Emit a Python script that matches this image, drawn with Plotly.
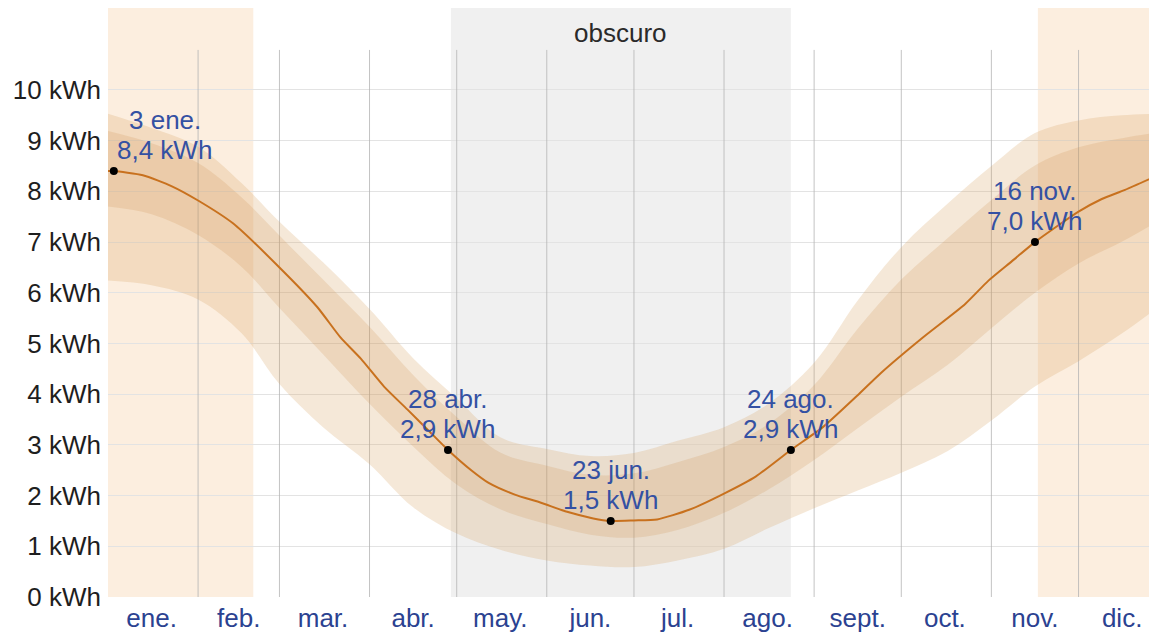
import plotly.graph_objects as go

# ---------------- data ----------------
month_start_days = [31, 59, 90, 120, 151, 181, 212, 243, 273, 304, 334]
month_mid_days = [15, 45, 74, 105, 135, 166, 196, 227, 258, 288, 319, 349]
month_labels = ["ene.", "feb.", "mar.", "abr.", "may.", "jun.", "jul.", "ago.",
                "sept.", "oct.", "nov.", "dic."]

ytick_vals = [0, 1, 2, 3, 4, 5, 6, 7, 8, 9, 10]
ytick_labels = ["0 kWh", "1 kWh", "2 kWh", "3 kWh", "4 kWh", "5 kWh", "6 kWh",
                "7 kWh", "8 kWh", "9 kWh", "10 kWh"]

# median daily incident shortwave energy (day of year, kWh)
median_days = [0, 2, 12, 22, 31, 43, 59, 72, 80, 87, 95, 103, 110, 117, 125, 131,
               140, 149, 158, 167, 173, 181, 189, 200, 212, 223, 235, 246, 258,
               266, 280, 295, 303, 311, 319, 334, 342, 350, 361]
median_vals = [8.40, 8.40, 8.32, 8.10, 7.82, 7.37, 6.50, 5.72, 5.12, 4.70, 4.15,
               3.70, 3.30, 2.90, 2.50, 2.25, 2.02, 1.86, 1.68, 1.55, 1.50, 1.51,
               1.53, 1.72, 2.04, 2.38, 2.90, 3.35, 3.98, 4.42, 5.10, 5.78, 6.24,
               6.62, 7.00, 7.60, 7.85, 8.03, 8.31]

band_days = [0, 15, 31, 46, 59, 74, 90, 105, 120, 135, 151, 166, 181, 196, 212,
             227, 243, 258, 273, 289, 304, 319, 334, 349, 361]
p90_vals = [9.53, 9.25, 8.88, 8.16, 7.40, 6.60, 5.68, 4.71, 3.92, 3.15, 2.92, 2.78,
            2.84, 3.08, 3.35, 3.80, 4.62, 5.85, 6.90, 7.76, 8.50, 9.15, 9.40, 9.50, 9.53]
p75_vals = [9.19, 8.95, 8.56, 7.88, 7.13, 6.26, 5.33, 4.38, 3.55, 2.85, 2.59, 2.41,
            2.44, 2.66, 2.96, 3.40, 4.18, 5.29, 6.26, 7.08, 7.83, 8.51, 8.87, 9.05, 9.16]
p25_vals = [7.70, 7.55, 7.14, 6.51, 5.70, 4.79, 3.81, 2.97, 2.22, 1.73, 1.44, 1.23,
            1.17, 1.32, 1.66, 2.11, 2.70, 3.33, 3.95, 4.58, 5.30, 6.00, 6.58, 7.01, 7.40]
p10_vals = [6.24, 6.15, 5.87, 5.20, 4.20, 3.35, 2.62, 1.77, 1.25, 0.93, 0.72, 0.62,
            0.59, 0.72, 0.95, 1.35, 1.75, 2.10, 2.45, 2.88, 3.48, 4.15, 4.65, 5.20, 5.70]

# highlighted points
ann_days = [2, 117, 173, 235, 319]
ann_vals = [8.4, 2.9, 1.5, 2.9, 7.0]
ann_dates = ["3 ene.", "28 abr.", "23 jun.", "24 ago.", "16 nov."]

# seasons
bright_periods = [(0, 50), (320, 365)]
dark_period = (118, 235)
dark_label = "obscuro"

X_MAX = 361
Y_MAX = 11.617
GRID_TOP = 10.79

# ---------------- figure ----------------
fig = go.Figure()

band_outer = "rgba(215,165,100,0.25)"
band_inner = "rgba(200,140,70,0.19)"

fig.add_trace(go.Scatter(x=band_days, y=p10_vals, mode="lines",
                         line=dict(width=0, shape="spline"), hoverinfo="skip", showlegend=False))
fig.add_trace(go.Scatter(x=band_days, y=p90_vals, mode="lines", fill="tonexty",
                         fillcolor=band_outer, line=dict(width=0, shape="spline"),
                         hoverinfo="skip", showlegend=False))
fig.add_trace(go.Scatter(x=band_days, y=p25_vals, mode="lines",
                         line=dict(width=0, shape="spline"), hoverinfo="skip", showlegend=False))
fig.add_trace(go.Scatter(x=band_days, y=p75_vals, mode="lines", fill="tonexty",
                         fillcolor=band_inner, line=dict(width=0, shape="spline"),
                         hoverinfo="skip", showlegend=False))
fig.add_trace(go.Scatter(x=median_days, y=median_vals, mode="lines",
                         line=dict(color="#c8711e", width=2, shape="spline", smoothing=0.6),
                         showlegend=False))
fig.add_trace(go.Scatter(x=ann_days, y=ann_vals, mode="markers",
                         marker=dict(color="black", size=8), showlegend=False))

shapes = []
for (a, b) in bright_periods:
    shapes.append(dict(type="rect", xref="x", yref="y", x0=a, x1=min(b, X_MAX),
                       y0=0, y1=Y_MAX, fillcolor="rgb(252,238,223)",
                       line=dict(width=0), layer="below"))
shapes.append(dict(type="rect", xref="x", yref="y", x0=dark_period[0], x1=dark_period[1],
                   y0=0, y1=Y_MAX, fillcolor="rgb(240,240,240)",
                   line=dict(width=0), layer="below"))
for d in month_start_days:
    shapes.append(dict(type="line", xref="x", yref="y", x0=d, x1=d, y0=0, y1=GRID_TOP,
                       line=dict(color="rgba(180,180,180,0.8)", width=1), layer="between"))
fig.update_layout(shapes=shapes)

annotations = []
for d, v, t in zip(ann_days, ann_vals, ann_dates):
    val_txt = ("%.1f" % v).replace(".", ",") + " kWh"
    if d < 20:
        anchor, xs = "left", 3
    else:
        anchor, xs = "center", 0
    # the value line, then the date line above it
    annotations.append(dict(x=d, y=v, text=val_txt, showarrow=False, xanchor="center",
                            yanchor="middle", yshift=21,
                            xshift=(xs + 48 if anchor == "left" else 0),
                            font=dict(size=26, color="#3451a3")))
    annotations.append(dict(x=d, y=v, text=t, showarrow=False, xanchor="center",
                            yanchor="middle", yshift=51,
                            xshift=(xs + 48 if anchor == "left" else 0),
                            font=dict(size=26, color="#3451a3")))
annotations.append(dict(x=(dark_period[0] + dark_period[1]) / 2, y=11.12, text=dark_label,
                        showarrow=False, xanchor="center", yanchor="middle",
                        font=dict(size=26, color="#2a2a2a")))
fig.update_layout(annotations=annotations)

fig.update_layout(
    width=1149, height=627,
    margin=dict(l=100, r=0, t=0, b=38),
    paper_bgcolor="white", plot_bgcolor="white",
    font=dict(family="Liberation Sans, Arial, sans-serif", size=26),
    xaxis=dict(range=[0, X_MAX], tickmode="array", tickvals=month_mid_days,
               ticktext=month_labels, showgrid=False, zeroline=False, showline=False,
               ticks="", ticklabelstandoff=3,
               tickfont=dict(size=26, color="#2b4291"), fixedrange=True),
    yaxis=dict(range=[0, Y_MAX], tickmode="array", tickvals=ytick_vals,
               ticktext=ytick_labels, showgrid=True, gridcolor="#e3e3e3", gridwidth=1,
               zeroline=False, showline=False, ticks="", ticklabelstandoff=6,
               tickfont=dict(size=26, color="#1e1e1e"), fixedrange=True),
    showlegend=False,
)

fig.write_html("out.html")
